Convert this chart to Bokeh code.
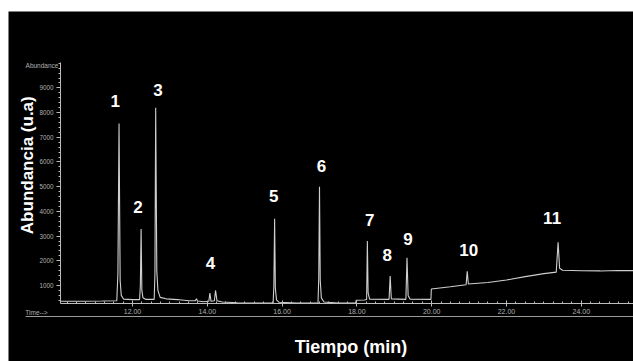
import math
from bokeh.plotting import figure
from bokeh.models import (Range1d, FixedTicker, LinearAxis, Label, PrintfTickFormatter,
                          ColumnDataSource)
from bokeh.embed import file_html
from bokeh.resources import INLINE
from bokeh.core.properties import value

# ---- chromatogram trace (time in min, abundance in u.a.) ----
time_min = [10.08, 10.60, 11.20, 11.58, 11.61, 11.64, 11.67, 11.70, 11.76, 12.00,
            12.19, 12.21, 12.23, 12.25, 12.28, 12.35, 12.58, 12.60, 12.62, 12.65,
            12.68, 12.74, 12.90, 13.20, 13.50, 13.68, 13.71, 13.74, 13.90, 14.04,
            14.07, 14.10, 14.19, 14.22, 14.26, 14.40, 14.80, 15.40, 15.76, 15.78,
            15.80, 15.82, 15.85, 15.92, 16.40, 16.96, 16.98, 17.00, 17.02, 17.05,
            17.12, 17.50, 17.97, 17.98, 18.20, 18.26, 18.28, 18.30, 18.34, 18.86,
            18.89, 18.92, 19.31, 19.34, 19.37, 19.42, 19.98, 19.99, 20.50, 20.92,
            20.95, 20.98, 21.50, 22.00, 22.50, 23.00, 23.33, 23.38, 23.42, 23.50,
            24.00, 24.50, 25.00, 25.39]
abundance = [360, 360, 370, 380, 1500, 7560, 1200, 600, 450, 430,
             430, 1000, 3290, 800, 500, 440, 440, 1500, 8200, 1600,
             800, 520, 460, 430, 380, 380, 460, 370, 340, 360,
             690, 360, 380, 800, 380, 330, 300, 290, 290, 1000,
             3700, 900, 420, 320, 290, 290, 1300, 5000, 1200, 500,
             330, 290, 290, 400, 410, 430, 2800, 700, 450, 440,
             1380, 460, 440, 2120, 600, 450, 440, 860, 950, 1030,
             1570, 1060, 1120, 1220, 1360, 1480, 1540, 2750, 1700, 1620,
             1600, 1590, 1610, 1600]

# ---- labelled peaks ----
peak_labels = ["1", "2", "3", "4", "5", "6", "7", "8", "9", "10", "11"]
peak_times = [11.64, 12.23, 12.62, 14.22, 15.80, 17.00, 18.28, 18.89, 19.34, 20.95, 23.38]
peak_heights = [7560, 3290, 8200, 800, 3700, 5000, 2800, 1380, 2120, 1570, 2750]

x_ticks = [12, 14, 16, 18, 20, 22, 24]
y_ticks = [1000, 2000, 3000, 4000, 5000, 6000, 7000, 8000, 9000]

# axis extents (data units)
X_START, X_END = 10.075, 25.396
Y_START, Y_END = 271, 10028

# label offsets in screen pixels (placement)
label_dx = [-3.7, -3, 2.4, -5, -1, 2, 2.3, -3, 1, 1.6, -6]
label_dy = [22.7, 21.6, 17.7, 27.3, 22.6, 21, 20.7, 21.4, 19, 21, 24]

FONT = "Liberation Sans"
AX = "#bdbdbd"
TXT = "#b0b0b0"

p = figure(width=633, height=361, x_range=Range1d(8.6845, 25.396), y_range=Range1d(-2077, 12093),
           output_backend="svg", toolbar_location=None,
           min_border_left=8, min_border_right=0, min_border_top=11, min_border_bottom=0)
p.background_fill_color = "black"
p.border_fill_color = "white"
p.outline_line_color = None
p.grid.visible = False

p.line(time_min, abundance, line_color="#cfcfcf", line_width=1.1)

src = ColumnDataSource(dict(x=peak_times, y=peak_heights, text=peak_labels,
                            dx=label_dx, dy=[-d for d in label_dy]))
p.text(x="x", y="y", text="text", x_offset="dx", y_offset="dy", source=src,
       text_color="white", text_font=value(FONT), text_font_style="bold",
       text_font_size="17px", text_align="center", text_baseline="middle")

# x axis
xa = p.xaxis[0]
xa.fixed_location = Y_START
xa.bounds = (X_START, X_END)
xa.ticker = FixedTicker(ticks=x_ticks, minor_ticks=[10 + 0.25 * i for i in range(1, 62)])
xa.formatter = PrintfTickFormatter(format="%.2f")
xa.axis_line_color = AX
xa.major_tick_line_color = AX
xa.minor_tick_line_color = AX
xa.major_tick_in = 3
xa.major_tick_out = 3
xa.minor_tick_in = 2
xa.minor_tick_out = 0
xa.major_label_text_font = FONT
xa.major_label_text_font_size = "7px"
xa.major_label_text_color = TXT
xa.major_label_standoff = 2

# y axis
ya = p.yaxis[0]
ya.fixed_location = X_START
ya.bounds = (Y_START, Y_END)
ya.ticker = FixedTicker(ticks=y_ticks, minor_ticks=[200 * i for i in range(2, 51)])
ya.axis_line_color = AX
ya.major_tick_line_color = AX
ya.minor_tick_line_color = AX
ya.major_tick_in = 0
ya.major_tick_out = 4
ya.minor_tick_in = 0
ya.minor_tick_out = 2
ya.major_label_text_font = FONT
ya.major_label_text_font_size = "6.3px"
ya.major_label_text_color = TXT
ya.major_label_standoff = 3

# plain lower rule under the time axis
rule = LinearAxis(ticker=FixedTicker(ticks=[]), major_label_text_font_size="0px",
                  major_tick_in=0, major_tick_out=0, minor_tick_in=0, minor_tick_out=0,
                  axis_line_color="#9a9a9a", fixed_location=-255, bounds=(9.139, X_END))
p.add_layout(rule, "below")

# texts
p.add_layout(Label(x=9.193, y=5870, text="Abundancia (u.a)", angle=math.pi / 2,
                   text_color="white", text_font=FONT, text_font_style="bold",
                   text_font_size="17px", text_align="center", text_baseline="middle"))
p.add_layout(Label(x=17.842, y=-1510, text="Tiempo (min)",
                   text_color="white", text_font=FONT, text_font_style="bold",
                   text_font_size="18px", text_align="center", text_baseline="middle"))
p.add_layout(Label(x=9.58, y=9907, text="Abundance", text_color=TXT, text_font=FONT,
                   text_font_size="6.5px", text_align="center", text_baseline="middle"))
p.add_layout(Label(x=9.433, y=-93, text="Time-->", text_color=TXT, text_font=FONT,
                   text_font_size="6.5px", text_align="center", text_baseline="middle"))

open("out.html", "w").write(file_html(p, INLINE))
